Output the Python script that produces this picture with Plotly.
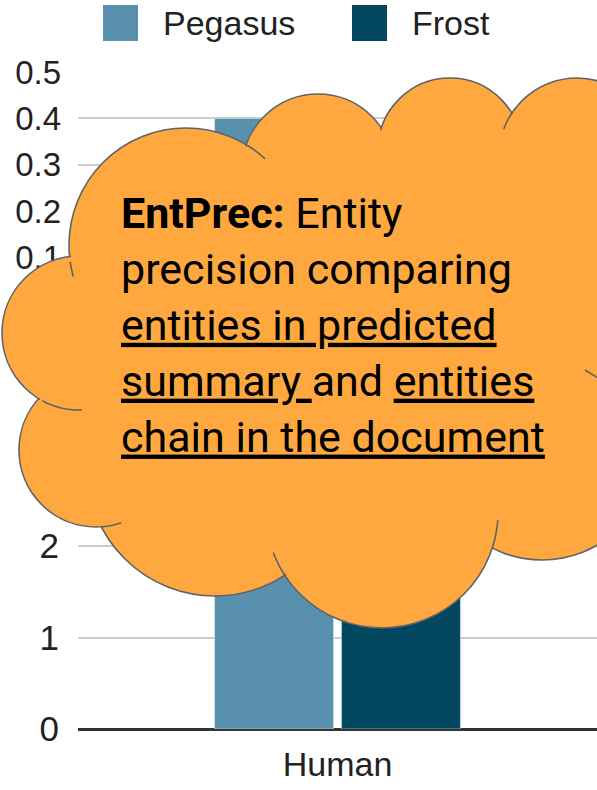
import math

import plotly.graph_objects as go

# ---- data -------------------------------------------------------------
series_names = ["Pegasus", "Frost"]
series_colors = ["#5990ad", "#03465f"]

# upper panel (mostly hidden behind the callout)
upper_categories = ["EntPrec"]
upper_pegasus = [0.40]
upper_frost = [0.33]
upper_ticks = [0.1, 0.2, 0.3, 0.4, 0.5]

# lower panel
lower_categories = ["Human"]
lower_pegasus = [3.3]
lower_frost = [3.5]
lower_ticks = [0, 1, 2, 3, 4]

callout_text = (
    "<b>EntPrec:</b> Entity<br>"
    "precision comparing<br>"
    "<u>entities in predicted</u><br>"
    "<u>summary </u>and <u>entities</u><br>"
    "<u>chain in the document</u>"
)

# ---- geometry helpers ---------------------------------------------------
W, H = 597, 790
ML, MR, MT, MB = 78, 0, 72, 61
PW, PH = W - ML - MR, H - MT - MB


def px(x):
    return (x - ML) / PW


def py(y):
    return (H - MB - y) / PH


FONT = "Liberation Sans, Arial, sans-serif"
ORANGE = "#fea83f"
EDGE = "#5f6368"

# cloud bumps: centre x, centre y, radius (pixels)
bumps = [
    (186, 245, 117),
    (318, 170, 76),
    (450, 150, 72),
    (577, 156, 78),
    (650, 330, 130),
    (542, 450, 110),
    (382, 512, 116),
    (215, 468, 128),
    (96, 450, 77),
    (79, 333, 77),
]
core = [(255, 158), (383, 142), (510, 118), (600, 108), (640, 230),
        (600, 400), (490, 540), (284, 570), (112, 518), (46, 402),
        (74, 265)]
# short inner seams: bump index, start point, end point
seams = [(0, (246, 147), (264, 160)), (3, (510, 111), (498, 127)),
         (0, (68, 262), (72, 277)), (9, (42, 401), (82, 410)),
         (8, (101, 527), (121, 522)), (6, (284, 577), (272, 553)),
         (6, (490, 547), (495, 520))]


def arc_path(idx, p0, p1, n=12):
    cx, cy, r = bumps[idx]
    a0 = math.atan2(p0[1] - cy, p0[0] - cx)
    a1 = math.atan2(p1[1] - cy, p1[0] - cx)
    if a1 - a0 > math.pi:
        a1 -= 2 * math.pi
    if a0 - a1 > math.pi:
        a1 += 2 * math.pi
    pts = []
    for k in range(n + 1):
        a = a0 + (a1 - a0) * k / n
        pts.append(f"{px(cx + r * math.cos(a)):.5f},{py(cy + r * math.sin(a)):.5f}")
    return "M " + " L ".join(pts)


fig = go.Figure()

for name, color, vals in zip(series_names, series_colors, [upper_pegasus, upper_frost]):
    fig.add_trace(go.Bar(x=upper_categories, y=vals, name=name, marker_color=color,
                         xaxis="x2", yaxis="y2", showlegend=False))
for name, color, vals in zip(series_names, series_colors, [lower_pegasus, lower_frost]):
    fig.add_trace(go.Bar(x=lower_categories, y=vals, name=name, marker_color=color,
                         showlegend=False))

shapes = []
# outlined bumps, then a slightly smaller fill pass to hide inner seams
for cx, cy, r in bumps:
    shapes.append(dict(type="circle", xref="paper", yref="paper",
                       x0=px(cx - r), x1=px(cx + r), y0=py(cy + r), y1=py(cy - r),
                       fillcolor=ORANGE, line=dict(color=EDGE, width=1.6)))
for cx, cy, r in bumps:
    rr = r - 1.6
    shapes.append(dict(type="circle", xref="paper", yref="paper",
                       x0=px(cx - rr), x1=px(cx + rr), y0=py(cy + rr), y1=py(cy - rr),
                       fillcolor=ORANGE, line=dict(width=0)))
path = "M " + " L ".join(f"{px(x):.5f},{py(y):.5f}" for x, y in core) + " Z"
shapes.append(dict(type="path", xref="paper", yref="paper", path=path,
                   fillcolor=ORANGE, line=dict(width=0)))
for idx, p0, p1 in seams:
    shapes.append(dict(type="path", xref="paper", yref="paper", path=arc_path(idx, p0, p1),
                       line=dict(color=EDGE, width=1.6)))
shapes.append(dict(type="line", xref="paper", yref="paper",
                   x0=px(585), y0=py(370), x1=px(598), y1=py(378),
                   line=dict(color=EDGE, width=1.6)))

# legend swatches
annotations = []
legend_x = [103, 352]
for x0, name, color in zip(legend_x, series_names, series_colors):
    shapes.append(dict(type="rect", xref="paper", yref="paper",
                       x0=px(x0), x1=px(x0 + 35), y0=py(41), y1=py(5),
                       fillcolor=color, line=dict(width=0), layer="above"))
    annotations.append(dict(xref="paper", yref="paper", x=px(x0 + 58), y=py(23),
                            xanchor="left", yanchor="middle", showarrow=False,
                            text=name, font=dict(family=FONT, size=34, color="#222222")))

annotations.append(dict(xref="paper", yref="paper", x=px(119), y=py(186),
                        xanchor="left", yanchor="top", align="left", showarrow=False,
                        text=callout_text,
                        font=dict(family="Roboto, sans-serif", size=43, color="#000000")))

fig.update_layout(
    width=W, height=H,
    margin=dict(l=ML, r=MR, t=MT, b=MB),
    paper_bgcolor="white", plot_bgcolor="white",
    barmode="group", bargap=0.511, bargroupgap=0.063,
    showlegend=False,
    shapes=shapes, annotations=annotations,
    xaxis=dict(domain=[0, 1], anchor="y", showgrid=False, ticks="",
               ticklabelstandoff=12,
               tickfont=dict(family=FONT, size=34, color="#222222")),
    yaxis=dict(domain=[0, 0.557], range=[0, 4], tickvals=lower_ticks,
               showgrid=True, gridcolor="#cccccc", gridwidth=2,
               zeroline=True, zerolinecolor="#333333", zerolinewidth=3,
               ticklabelstandoff=18,
               tickfont=dict(family=FONT, size=35, color="#222222")),
    xaxis2=dict(domain=[0, 1], anchor="y2", showgrid=False, showticklabels=False, ticks=""),
    yaxis2=dict(domain=[0.647, 1], range=[0, 0.5], tickvals=upper_ticks,
                showgrid=True, gridcolor="#cccccc", gridwidth=2, zeroline=False,
                ticklabelstandoff=16,
                tickfont=dict(family=FONT, size=33, color="#222222")),
)

# the page keeps the browser's default body margin otherwise
fig.write_html("out.html", config={"displayModeBar": False},
               post_script="document.body.style.margin = '0';")
